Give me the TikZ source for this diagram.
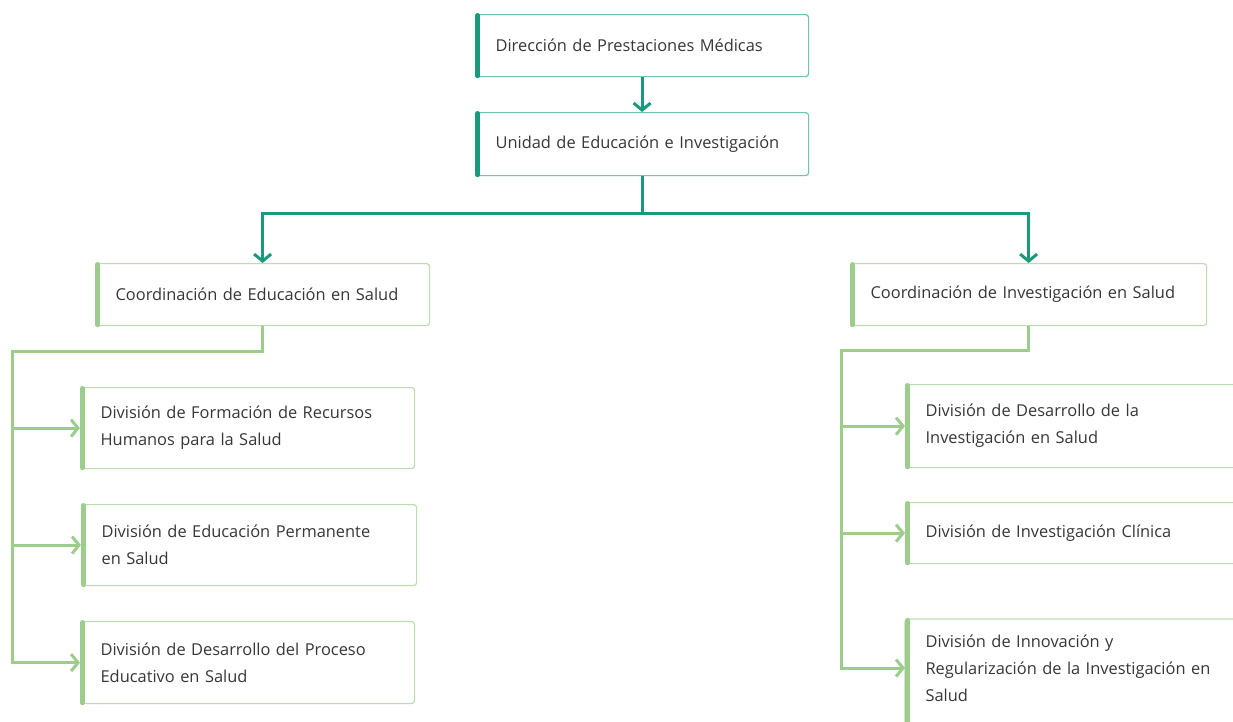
\documentclass[tikz,border=0pt]{standalone}
\usepackage{fontspec}
\setmainfont{Open Sans}
\usetikzlibrary{arrows.meta}
\definecolor{teal1}{RGB}{26,154,122}
\definecolor{tealb}{RGB}{110,196,174}
\definecolor{green1}{RGB}{156,205,140}
\definecolor{greenb}{RGB}{187,222,174}
\definecolor{txt}{RGB}{55,55,55}
\tikzset{
  boxbase/.style={rectangle, rounded corners=3pt, anchor=north west, align=left,
    inner xsep=20pt, inner ysep=0pt, text=txt, line width=1.2pt,
    font=\fontsize{16.4}{27}\selectfont},
  tbox/.style={boxbase, draw=tealb},
  gbox/.style={boxbase, draw=greenb},
  tbar/.style={draw=teal1, line width=5pt, line cap=round},
  gbar/.style={draw=green1, line width=5pt, line cap=round},
  tline/.style={draw=teal1, line width=3pt},
  gline/.style={draw=green1, line width=3pt},
  tarr/.style={tline, -{Straight Barb[length=7pt,width=17pt]}},
  garr/.style={gline, -{Straight Barb[length=7pt,width=17pt]}},
}
\begin{document}
\begin{tikzpicture}[x=1pt,y=-1pt]
\useasboundingbox (0,0) rectangle (1233,721);
\fill[white] (0,0) rectangle (1233,721);
\clip (0,0) rectangle (1233,721);
% top boxes
\node[tbox, minimum width=333pt, minimum height=62pt, text width=293pt] (dir) at (475,14) {Dirección de Prestaciones Médicas};
\node[tbox, minimum width=333pt, minimum height=63pt, text width=293pt] (uni) at (475,112) {Unidad de Educación e Investigación};
% coordinations
\node[gbox, minimum width=334pt, minimum height=62pt, text width=294pt] (ce) at (95,263) {Coordinación de Educación en Salud};
\node[gbox, minimum width=356pt, minimum height=62pt, text width=316pt] (ci) at (850,263) {Coordinación de Investigación en Salud};
% left divisions
\node[gbox, minimum width=334pt, minimum height=81pt, text width=294pt] (d1) at (80,387) {División de Formación de Recursos\\Humanos para la Salud};
\node[gbox, minimum width=335pt, minimum height=81pt, text width=295pt] (d2) at (81,504) {División de Educación Permanente\\en Salud};
\node[gbox, minimum width=334pt, minimum height=82pt, text width=294pt] (d3) at (80,621) {División de Desarrollo del Proceso\\Educativo en Salud};
% right divisions
\node[gbox, minimum width=345pt, minimum height=83pt, text width=305pt] (r1) at (905,384) {División de Desarrollo de la\\Investigación en Salud};
\node[gbox, minimum width=345pt, minimum height=61pt, text width=305pt] (r2) at (905,502) {División de Investigación Clínica};
\node[boxbase, minimum width=345pt, minimum height=98pt, text width=305pt] (r3) at (905,619) {División de Innovación y\\Regularización de la Investigación en\\Salud};
\draw[draw=greenb, line width=1.2pt, rounded corners=3pt] (r3.north west) rectangle ([yshift=-20pt]r3.south east);
% left bars
\foreach \n in {dir,uni} \draw[tbar] ([xshift=2.5pt,yshift=-1.5pt]\n.north west) -- ([xshift=2.5pt,yshift=1.5pt]\n.south west);
\foreach \n in {ce,ci,d1,d2,d3,r1,r2} \draw[gbar] ([xshift=2.5pt,yshift=-1.5pt]\n.north west) -- ([xshift=2.5pt,yshift=1.5pt]\n.south west);
\draw[gbar] ([xshift=2.5pt,yshift=-1.5pt]r3.north west) -- ([xshift=2.5pt,yshift=-30pt]r3.south west);
% teal connectors
\draw[tarr] (dir.south) -- (uni.north);
\draw[tline] (uni.south) -- ++(0,37) coordinate (tj);
\draw[tarr] (tj) -| (ce.north);
\draw[tarr] (tj) -| (ci.north);
% left green bracket
\coordinate (lc) at (12,351);
\draw[garr] (ce.south) |- (lc) |- (d3.west);
\draw[garr] (lc |- d1.west) -- (d1.west);
\draw[garr] (lc |- d2.west) -- (d2.west);
% right green bracket
\coordinate (rc) at (841,350);
\draw[garr] (ci.south) |- (rc) -- (841,668) coordinate (rb) -- (rb -| r3.west);
\draw[garr] (rc |- r1.west) -- (r1.west);
\draw[garr] (rc |- r2.west) -- (r2.west);
\end{tikzpicture}
\end{document}
